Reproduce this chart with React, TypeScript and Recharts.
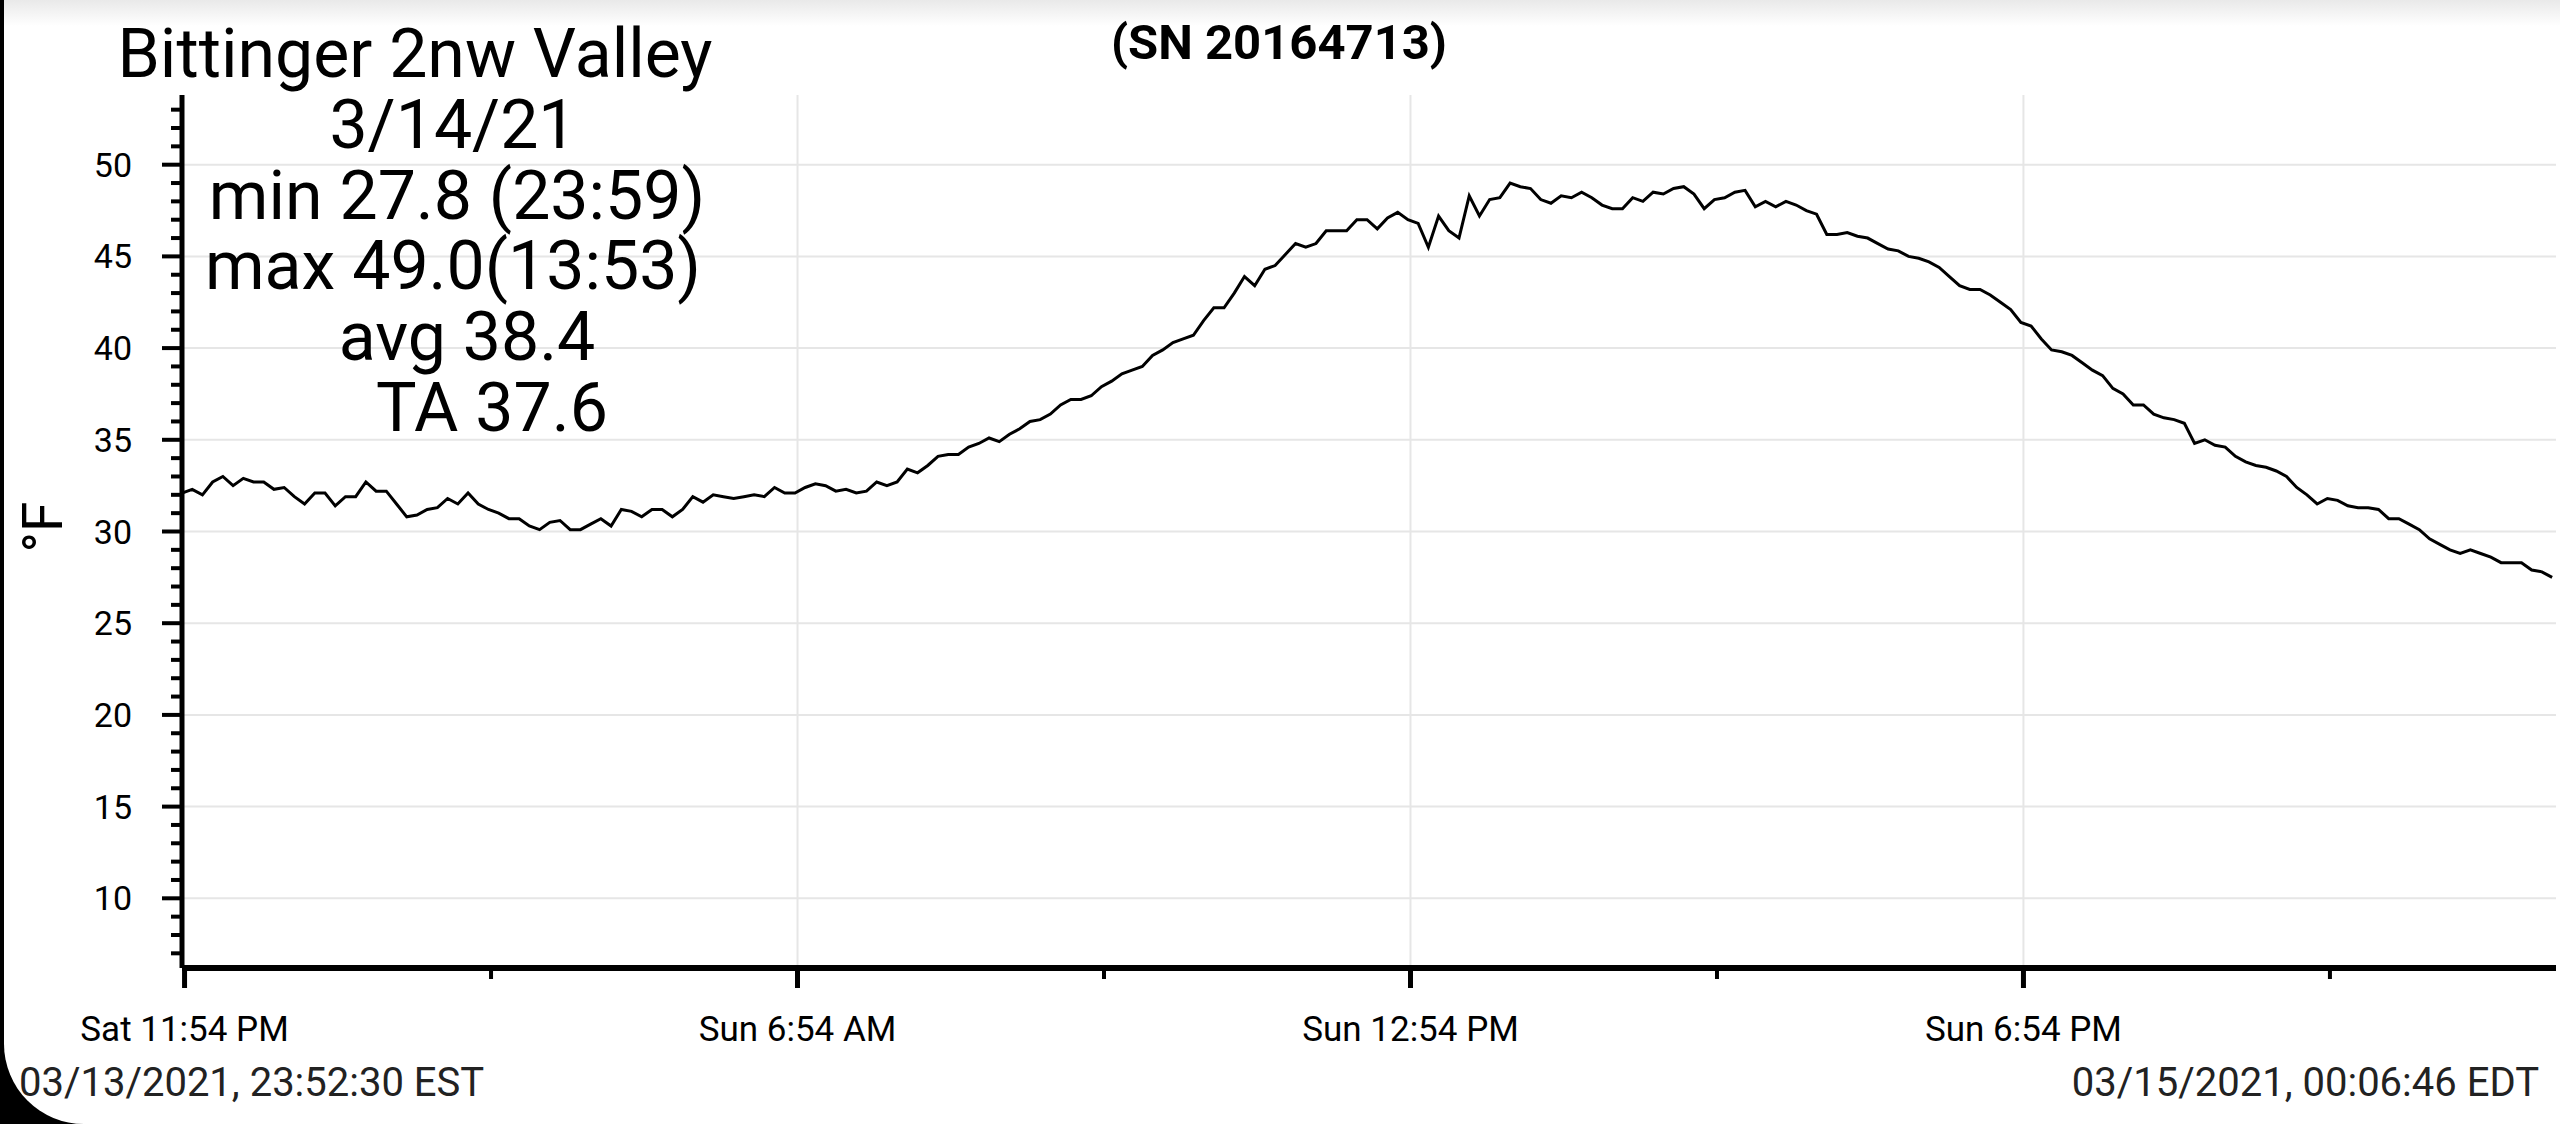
import { LineChart, Line, XAxis, YAxis, CartesianGrid } from 'recharts'

// logger samples every 6 minutes, starting 03/13/2021 23:52:30 EST
const LOG_INTERVAL_MIN = 6
const SPAN_MIN = 1394.27

const nightTemps = [
  32.1, 32.3, 32.0, 32.7, 33.0, 32.5, 32.9, 32.7, 32.7, 32.3,
  32.4, 31.9, 31.5, 32.1, 32.1, 31.4, 31.9, 31.9, 32.7, 32.2,
  32.2, 31.5, 30.8, 30.9, 31.2, 31.3, 31.8, 31.5, 32.1, 31.5,
  31.2, 31.0, 30.7, 30.7, 30.3, 30.1, 30.5, 30.6, 30.1, 30.1,
  30.4, 30.7, 30.3, 31.2, 31.1, 30.8, 31.2, 31.2, 30.8, 31.2,
  31.9, 31.6, 32.0, 31.9, 31.8, 31.9, 32.0, 31.9, 32.4, 32.1,
]
const morningTemps = [
  32.1, 32.4, 32.6, 32.5, 32.2, 32.3, 32.1, 32.2, 32.7, 32.5,
  32.7, 33.4, 33.2, 33.6, 34.1, 34.2, 34.2, 34.6, 34.8, 35.1,
  34.9, 35.3, 35.6, 36.0, 36.1, 36.4, 36.9, 37.2, 37.2, 37.4,
  37.9, 38.2, 38.6, 38.8, 39.0, 39.6, 39.9, 40.3, 40.5, 40.7,
  41.5, 42.2, 42.2, 43.0, 43.9, 43.4, 44.3, 44.5, 45.1, 45.7,
  45.5, 45.7, 46.4, 46.4, 46.4, 47.0, 47.0, 46.5, 47.1, 47.4,
]
const afternoonTemps = [
  47.0, 46.8, 45.5, 47.2, 46.4, 46.0, 48.3, 47.2, 48.1, 48.2,
  49.0, 48.8, 48.7, 48.1, 47.9, 48.3, 48.2, 48.5, 48.2, 47.8,
  47.6, 47.6, 48.2, 48.0, 48.5, 48.4, 48.7, 48.8, 48.4, 47.6,
  48.1, 48.2, 48.5, 48.6, 47.7, 48.0, 47.7, 48.0, 47.8, 47.5,
  47.3, 46.2, 46.2, 46.3, 46.1, 46.0, 45.7, 45.4, 45.3, 45.0,
  44.9, 44.7, 44.4, 43.9, 43.4, 43.2, 43.2, 42.9, 42.5, 42.1,
]
const eveningTemps = [
  41.4, 41.2, 40.5, 39.9, 39.8, 39.6, 39.2, 38.8, 38.5, 37.8,
  37.5, 36.9, 36.9, 36.4, 36.2, 36.1, 35.9, 34.8, 35.0, 34.7,
  34.6, 34.1, 33.8, 33.6, 33.5, 33.3, 33.0, 32.4, 32.0, 31.5,
  31.8, 31.7, 31.4, 31.3, 31.3, 31.2, 30.7, 30.7, 30.4, 30.1,
  29.6, 29.3, 29.0, 28.8, 29.0, 28.8, 28.6, 28.3, 28.3, 28.3,
  27.9, 27.8, 27.5,
]

const xMajorTicks = [1.5, 361.5, 721.5, 1081.5]
const xTickLabels = ['Sat 11:54 PM', 'Sun 6:54 AM', 'Sun 12:54 PM', 'Sun 6:54 PM']
const xMinorTicks = [181.5, 541.5, 901.5, 1261.5]
const yMajorTicks = [10, 15, 20, 25, 30, 35, 40, 45, 50]
const yMinorTicks = [
  7, 8, 9, 11, 12, 13, 14, 16, 17, 18, 19, 21, 22, 23, 24, 26, 27, 28, 29,
  31, 32, 33, 34, 36, 37, 38, 39, 41, 42, 43, 44, 46, 47, 48, 49, 51, 52, 53,
]

const stationName = 'Bittinger 2nw Valley'
const serialText = '(SN 20164713)'
const statLines = ['3/14/21', 'min 27.8 (23:59)', 'max 49.0(13:53)', 'avg 38.4', 'TA 37.6']
const startStamp = '03/13/2021, 23:52:30 EST'
const endStamp = '03/15/2021, 00:06:46 EDT'

const W = 2560
const H = 1124
const PLOT_LEFT = 182
const FONT = 'Roboto, "Noto Sans", sans-serif'

const data = [...nightTemps, ...morningTemps, ...afternoonTemps, ...eveningTemps].map((temp, i) => ({
  t: i * LOG_INTERVAL_MIN,
  temp,
}))

// where each stat line sits (centre x, baseline)
const statPos = [
  { x: 453, y: 148 },
  { x: 457, y: 219 },
  { x: 453, y: 289 },
  { x: 467, y: 360 },
  { x: 492, y: 431 },
]

function YTick(props: any) {
  const { y, payload } = props
  const major = yMajorTicks.includes(payload.value)
  return (
    <g>
      <line
        x1={PLOT_LEFT - (major ? 20 : 11)}
        x2={PLOT_LEFT}
        y1={y}
        y2={y}
        stroke="#000"
        strokeWidth={4}
      />
      {major && (
        <text x={132} y={y} dy={12} textAnchor="end" fontSize={34} fontFamily={FONT} fill="#000">
          {payload.value}
        </text>
      )}
    </g>
  )
}

function XTick(props: any) {
  const { x, payload } = props
  const idx = xMajorTicks.indexOf(payload.value)
  const major = idx >= 0
  const axisY = H - 156
  return (
    <g>
      <line
        x1={x}
        x2={x}
        y1={axisY}
        y2={axisY + (major ? 20 : 11)}
        stroke="#000"
        strokeWidth={major ? 5 : 4}
      />
      {major && (
        <text x={x} y={1041} textAnchor="middle" fontSize={35} fontFamily={FONT} fill="#000">
          {xTickLabels[idx]}
        </text>
      )}
    </g>
  )
}

export default function App() {
  return (
    <div style={{ position: 'relative', width: W, height: H, background: '#000', overflow: 'hidden' }}>
      <style>{'body{margin:0}'}</style>
      <div
        style={{
          position: 'absolute',
          left: 4,
          top: 0,
          right: 0,
          bottom: 0,
          background: '#fff',
          borderBottomLeftRadius: 80,
        }}
      />
      <div
        style={{
          position: 'absolute',
          left: 4,
          top: 0,
          right: 0,
          height: 26,
          background: 'linear-gradient(#e9e9e9, #ffffff)',
        }}
      />
      <div style={{ position: 'absolute', left: 0, top: 0 }}>
        <LineChart width={W} height={H} data={data} margin={{ top: 95, right: 4, bottom: 0, left: 0 }}>
          <CartesianGrid
            stroke="#e6e6e6"
            strokeWidth={2}
            horizontalValues={yMajorTicks}
            verticalValues={xMajorTicks.slice(1)}
          />
          <XAxis
            dataKey="t"
            type="number"
            domain={[0, SPAN_MIN]}
            ticks={[...xMajorTicks, ...xMinorTicks]}
            interval={0}
            tick={(p: any) => <XTick {...p} />}
            tickLine={false}
            axisLine={{ stroke: '#000', strokeWidth: 6 }}
            height={156}
            allowDataOverflow
          />
          <YAxis
            type="number"
            domain={[6.2, 53.8]}
            ticks={[...yMajorTicks, ...yMinorTicks]}
            interval={0}
            tick={(p: any) => <YTick {...p} />}
            tickLine={false}
            axisLine={{ stroke: '#000', strokeWidth: 5 }}
            width={PLOT_LEFT}
            allowDataOverflow
          />
          <Line
            dataKey="temp"
            type="linear"
            stroke="#000"
            strokeWidth={3}
            dot={false}
            activeDot={false}
            isAnimationActive={false}
          />
        </LineChart>
      </div>
      <svg
        width={W}
        height={H}
        style={{ position: 'absolute', left: 0, top: 0, pointerEvents: 'none' }}
        fontFamily={FONT}
      >
        <text x={415} y={77} textAnchor="middle" fontSize={68} fill="#000">
          {stationName}
        </text>
        {statLines.map((s, i) => (
          <text key={s} x={statPos[i].x} y={statPos[i].y} textAnchor="middle" fontSize={68} fill="#000">
            {s}
          </text>
        ))}
        <text x={1279} y={59} textAnchor="middle" fontSize={49} fontWeight="bold" fill="#000">
          {serialText}
        </text>
        <text transform="translate(62 527) rotate(-90)" textAnchor="middle" fontSize={55} fill="#000">
          °F
        </text>
        <text x={19} y={1096} fontSize={40} fill="#222">
          {startStamp}
        </text>
        <text x={2539} y={1096} textAnchor="end" fontSize={40} fill="#222">
          {endStamp}
        </text>
      </svg>
    </div>
  )
}
